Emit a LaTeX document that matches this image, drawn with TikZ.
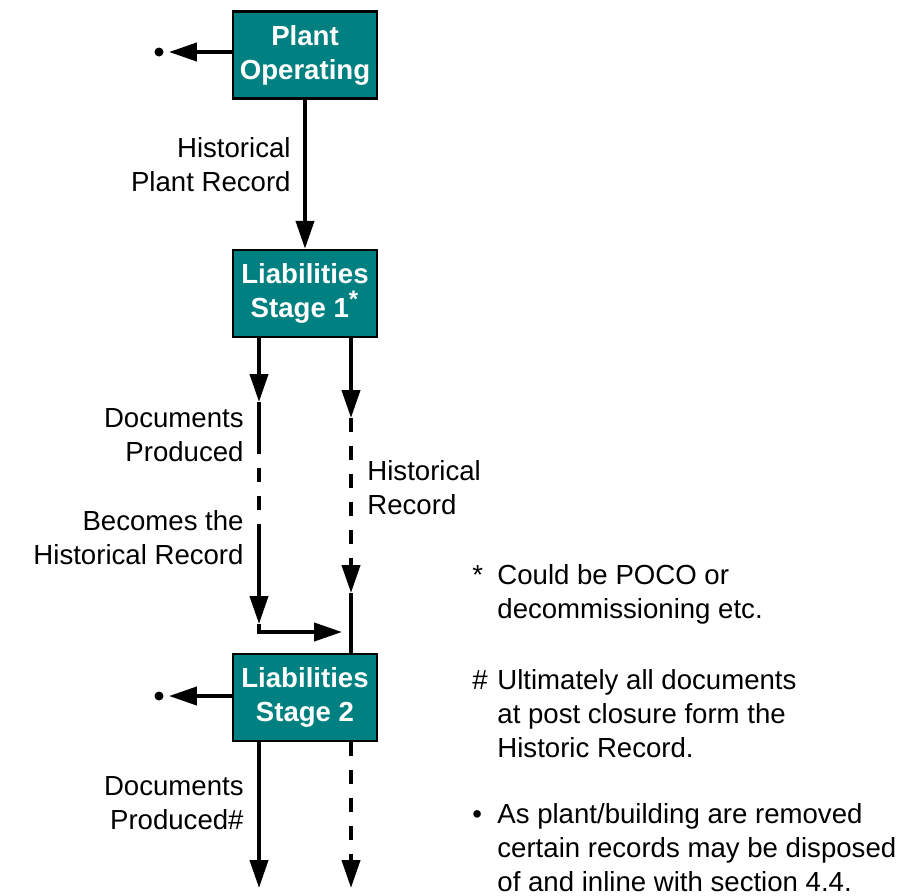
\documentclass[tikz,border=0pt]{standalone}
\usepackage{fontspec}
\setmainfont{Liberation Sans}
\usetikzlibrary{arrows.meta}
\pgfdeclarelayer{edgelayer}
\pgfdeclarelayer{nodelayer}
\pgfsetlayers{edgelayer,nodelayer,main}
\definecolor{boxteal}{RGB}{0,128,128}
\tikzstyle{stage}=[rectangle,fill=boxteal,draw=black,line width=1.2pt,minimum width=72pt,minimum height=43.5pt,inner sep=0pt,text=white,align=center,font=\bfseries\fontsize{13.8}{17}\selectfont]
\tikzstyle{endpoint}=[circle,fill=black,inner sep=0pt,minimum size=4.5pt]
\tikzstyle{flow_text}=[inner sep=0pt,font=\fontsize{13.8}{17}\selectfont]
\tikzstyle{flow}=[draw=black,line width=2pt]
\tikzstyle{transition}=[flow,-{Triangle[length=14pt,width=9pt]}]
\tikzstyle{dashflow}=[flow,dash pattern=on 7pt off 7pt]
\newcommand{\notesym}[1]{\makebox[12.5pt][l]{#1}}

\begin{document}
\begin{tikzpicture}[x=0.5pt,y=-0.5pt]
	\useasboundingbox (0,0) rectangle (916,895);
	\begin{pgfonlayer}{nodelayer}
		\node [style=stage] (0) at (305, 55) {Plant\\Operating};
		\node [style=stage] (1) at (305, 293.5) {Liabilities\\Stage 1\textsuperscript{\large *}};
		\node [style=stage] (2) at (305, 697.5) {Liabilities\\Stage 2};
		\node [style=endpoint] (3) at (159, 52) {};
		\node [style=endpoint] (4) at (159, 696) {};
		\node [style=flow_text, anchor=east, align=right] (5) at (291, 165) {Historical\\Plant Record};
		\node [style=flow_text, anchor=east, align=right] (6) at (244, 435.5) {Documents\\Produced};
		\node [style=flow_text, anchor=west, align=left] (7) at (367, 487.5) {Historical\\Record};
		\node [style=flow_text, anchor=east, align=right] (8) at (244, 538) {Becomes the\\Historical Record};
		\node [style=flow_text, anchor=east, align=right] (9) at (244, 803) {Documents\\Produced\#};
		\node [style=flow_text, anchor=west, align=left] (30) at (472, 594) {\notesym{*}Could be POCO or\\\hspace*{12.5pt}decommissioning etc.};
		\node [style=flow_text, anchor=west, align=left] (31) at (472, 714) {\notesym{\#}Ultimately all documents\\\hspace*{12.5pt}at post closure form the\\\hspace*{12.5pt}Historic Record.};
		\node [style=flow_text, anchor=west, align=left] (32) at (472, 848) {\notesym{\textbullet}As plant/building are removed\\\hspace*{12.5pt}certain records may be disposed\\\hspace*{12.5pt}of and inline with section 4.4.};
	\end{pgfonlayer}
	% free ends of the connectors
	\coordinate (10) at (259, 402);
	\coordinate (11) at (259, 440);
	\coordinate (12) at (259, 530);
	\coordinate (13) at (259, 624);
	\coordinate (14) at (259, 632);
	\coordinate (15) at (342, 632);
	\coordinate (16) at (351, 418);
	\coordinate (17) at (351, 564);
	\coordinate (18) at (351, 593);
	\coordinate (19) at (259, 888);
	\coordinate (20) at (351, 888);
	\begin{pgfonlayer}{edgelayer}
		\draw [style=transition] (0.south) -- (1.north);
		\draw [style=transition, shorten >=2.5pt] (0.west |- 3) -- (3);
		\draw [style=transition, shorten >=2.5pt] (2.west |- 4) -- (4);
		\draw [style=transition] ([xshift=-23pt]1.south) -- (10);
		\draw [style=flow] (10) -- (11);
		\draw [style=dashflow] (11) -- (12);
		\draw [style=transition] (12) -- (13);
		\draw [style=transition] (13) -- (14) -- (15);
		\draw [style=transition] ([xshift=23pt]1.south) -- (16);
		\draw [style=dashflow] (16) -- (17);
		\draw [style=transition] (17) -- (18);
		\draw [style=flow] (18) -- ([xshift=23pt]2.north);
		\draw [style=transition] ([xshift=-23pt]2.south) -- (19);
		\draw [style=dashflow, -{Triangle[length=14pt,width=9pt]}] ([xshift=23pt]2.south) -- (20);
	\end{pgfonlayer}
\end{tikzpicture}
\end{document}
